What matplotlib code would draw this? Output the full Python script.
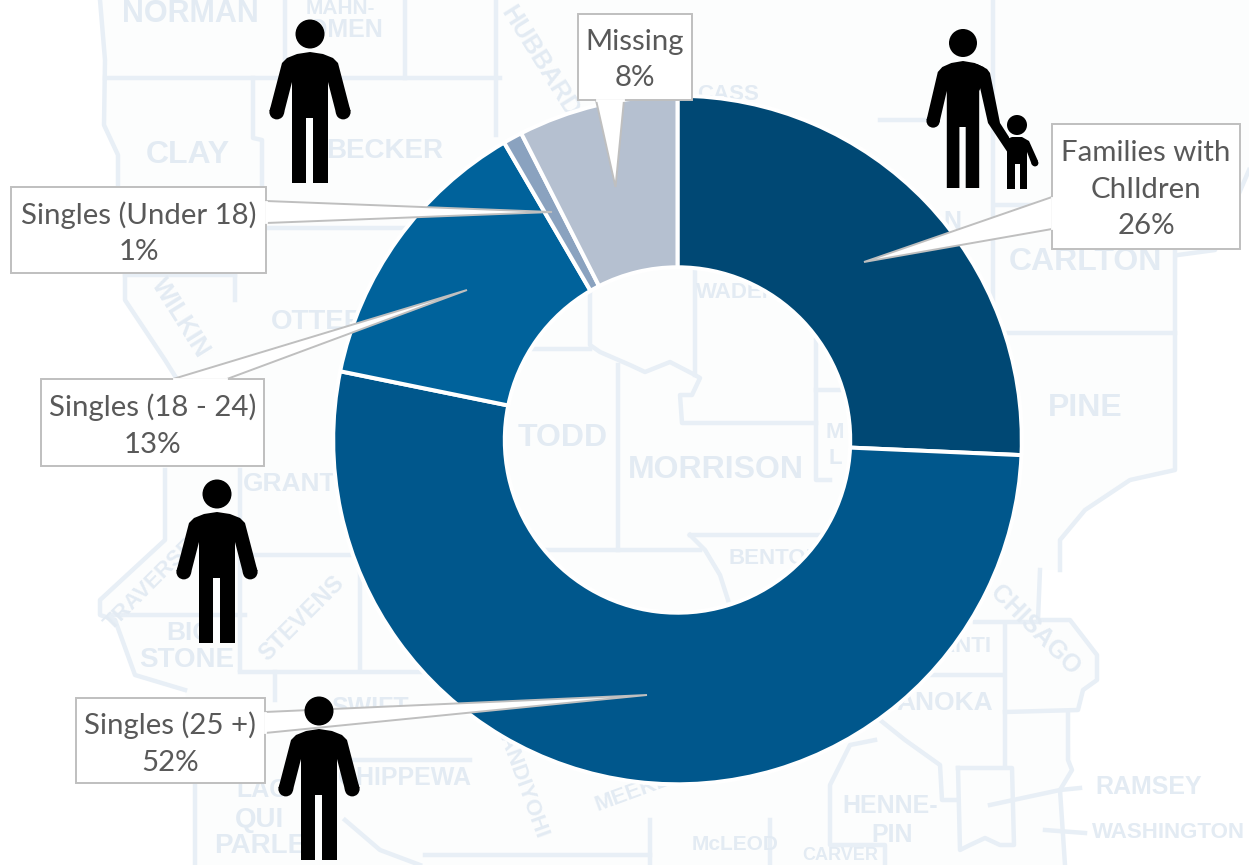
import matplotlib
matplotlib.use('Agg')
import matplotlib.pyplot as plt
from matplotlib.patches import Circle, Polygon, Rectangle

W, H = 1249, 865

# chart values
categories = ['Families with\nChIldren', 'Singles (25 +)', 'Singles (18 - 24)', 'Singles (Under 18)', 'Missing']
shares = [25.7, 52.5, 13.4, 0.9, 7.5]
pct_labels = ['26%', '52%', '13%', '1%', '8%']
colors = ['#004874', '#00578c', '#00629b', '#8aa2bf', '#b5c0d0']

# callout boxes (left, top, right, bottom) and pointer (start, tip, end)
boxes = [(1052, 124, 1240, 249), (76, 698, 265, 783), (41, 379, 264, 466), (11, 187, 266, 273), (578, 14, 692, 100)]
pointers = [
    [(1052, 197), (864, 262), (1052, 229)],
    [(265, 712), (647, 695), (265, 733)],
    [(173, 379), (467, 290), (227, 379)],
    [(266, 201), (552, 212), (266, 223)],
    [(596, 100), (615.5, 187), (624, 100)],
]

# faded county map behind the chart
land = [(100, 0), (105, 60), (104, 125), (118, 155), (118, 190), (125, 273), (125, 300), (165, 360), (190, 400),
        (165, 470), (165, 540), (100, 600), (100, 615), (115, 620), (135, 675), (185, 690), (195, 765), (195, 865),
        (1065, 865), (1060, 790), (1072, 770), (1068, 712), (1078, 710), (1083, 690), (1097, 680), (1097, 655),
        (1070, 620), (1038, 620), (1040, 570), (1060, 570), (1060, 540), (1085, 510), (1130, 480), (1175, 470),
        (1175, 300), (1178, 255), (1215, 250), (1249, 170), (1249, 0)]
county_lines = [
    [(100, 0), (105, 60), (104, 125), (118, 155), (118, 186)],
    [(125, 273), (125, 300), (165, 360), (190, 400)],
    [(165, 470), (165, 540), (100, 600), (100, 615), (115, 620), (135, 675), (185, 690)],
    [(195, 783), (195, 865)],
    [(105, 78), (500, 78)], [(285, 0), (285, 78)], [(405, 0), (405, 78)],
    [(253, 78), (253, 138), (262, 140), (262, 187)], [(496, 0), (496, 135)],
    [(266, 228), (420, 228)], [(125, 275), (235, 275)], [(235, 273), (235, 300)],
    [(240, 470), (240, 670)], [(240, 555), (350, 555)], [(360, 555), (360, 670)], [(240, 672), (500, 672)],
    [(275, 672), (275, 700)], [(110, 615), (245, 615)], [(350, 760), (470, 760)], [(345, 820), (380, 850), (420, 865)],
    [(590, 270), (590, 345), (600, 352), (630, 365), (645, 372), (670, 362), (695, 375), (700, 378), (692, 395),
     (680, 395), (682, 423), (816, 423)],
    [(695, 270), (695, 375)], [(816, 340), (816, 480), (830, 480)], [(816, 390), (840, 390)],
    [(618, 365), (618, 550)], [(545, 550), (700, 550)], [(430, 349), (590, 349)],
    [(690, 535), (820, 535)], [(690, 535), (705, 550), (720, 575), (728, 600)],
    [(880, 120), (930, 120)], [(993, 0), (993, 300)], [(995, 205), (1050, 205)],
    [(1000, 333), (1175, 333)], [(1175, 250), (1175, 470), (1130, 480), (1085, 510), (1060, 540), (1060, 570)],
    [(1178, 255), (1215, 250), (1249, 170)],
    [(1040, 570), (1038, 620), (1070, 620), (1097, 655), (1097, 680), (1083, 690), (1078, 710), (1005, 712)],
    [(975, 622), (1038, 622)], [(1005, 625), (1005, 765)], [(930, 675), (1003, 675)],
    [(1068, 712), (1068, 760), (1072, 770), (1060, 790), (1065, 865)],
    [(958, 768), (1012, 768), (1014, 845), (1000, 845), (985, 838), (970, 845), (960, 850), (958, 768)],
    [(880, 720), (905, 740), (940, 765), (942, 800), (958, 800)],
    [(875, 740), (850, 745), (830, 785), (830, 845), (885, 845), (885, 865)],
    [(990, 805), (1060, 790), (1080, 788)], [(1045, 830), (1085, 833)],
    [(650, 820), (650, 865)], [(770, 820), (770, 865)], [(425, 855), (650, 855)],
]
county_names = [
    ('NORMAN', 190, 14, 0, 22), ('MAHN-', 340, 8, 0, 15), ('OMEN', 345, 30, 0, 18), ('CLAY', 188, 155, 0, 23),
    ('BECKER', 385, 151, 0, 20), ('HUBBARD', 540, 62, -58, 18), ('CASS', 728, 95, 0, 16), ('OTTER', 318, 322, 0, 20),
    ('WILKIN', 180, 318, -58, 18), ('GRANT', 290, 484, 0, 19), ('TRAVERSE', 150, 585, 45, 16), ('BIG', 190, 633, 0, 19),
    ('STONE', 187, 660, 0, 20), ('STEVENS', 302, 618, 45, 17), ('SWIFT', 370, 708, 0, 18), ('CHIPPEWA', 405, 778, 0, 18),
    ('LAC', 262, 790, 0, 18), ('QUI', 260, 820, 0, 20), ('PARLE', 260, 846, 0, 20), ('KANDIYOHI', 520, 780, -70, 16),
    ('MEEKER', 640, 790, 20, 16), ('TODD', 563, 438, 0, 23), ('MORRISON', 716, 470, 0, 23), ('BENTON', 775, 558, 0, 16),
    ('WADENA', 745, 292, 0, 16), ('M', 835, 432, 0, 16), ('L', 835, 458, 0, 16), ('ISANTI', 955, 646, 0, 16),
    ('ANOKA', 945, 703, 0, 19), ('CHISAGO', 1035, 630, -45, 18), ('RAMSEY', 1149, 787, 0, 18), ('WASHINGTON', 1168, 833, 0, 16),
    ('HENNE-', 890, 806, 0, 18), ('PIN', 892, 835, 0, 18), ('CARLTON', 1085, 262, 0, 23), ('PINE', 1085, 408, 0, 23),
    ('McLEOD', 735, 845, 0, 15), ('CARVER', 840, 855, 0, 13), ('N', 952, 222, 0, 18),
]
map_line = '#e8eff6'
map_text = '#e3ebf3'


def person(ax, cx, top, head_y, head_r=14.5, s=1.0, right_arm=True, h=131):
    # black pictogram, outline follows head, shoulders, arms, torso, legs
    ax.add_patch(Circle((cx, head_y), head_r, fc='black', ec='none', zorder=6))
    left = [(-18, h), (-18, 30), (-26, 61), (-40.5, 59), (-28, 11), (-23, 6), (-13, 2), (0, 0)]
    right = [(13, 2), (23, 6), (28, 11), (18, 30), (18, h)]
    if right_arm:
        right = [(13, 2), (23, 6), (28, 11), (40.5, 59), (26, 61), (18, 30), (18, h)]
    gap = [(3, h), (3, 66), (-4, 66), (-4, h)]
    pts = [(cx + x * s, top + y) for x, y in left + right + gap]
    ax.add_patch(Polygon(pts, closed=True, fc='black', ec='none', zorder=6))
    ax.add_patch(Circle((cx - 33.2 * s, top + 60), 7.4 * s, fc='black', ec='none', zorder=6))
    if right_arm:
        ax.add_patch(Circle((cx + 33.2 * s, top + 60), 7.4 * s, fc='black', ec='none', zorder=6))


fig = plt.figure(figsize=(W / 100, H / 100), dpi=100, facecolor='white')
ax = fig.add_axes([0, 0, 1, 1])

ax.add_patch(Polygon(land, closed=True, fc='#fcfdfd', ec='none', zorder=0))
for line in county_lines:
    ax.plot([p[0] for p in line], [p[1] for p in line], color=map_line, lw=3.2, zorder=1,
            solid_joinstyle='round')
for name, x, y, rot, size in county_names:
    ax.text(x, y, name, ha='center', va='center', rotation=rot, fontsize=size, fontweight='bold',
            family='Liberation Sans', color=map_text, zorder=1)

# y axis runs downward here, so startangle -90 is 12 o'clock and the slices go clockwise
ax.pie(shares, colors=colors, startangle=-90, counterclock=True, center=(677.5, 440), radius=344.3,
       wedgeprops=dict(width=171.6, edgecolor='white', linewidth=2.9, zorder=3), frame=False)

for cat, pct, box, ptr in zip(categories, pct_labels, boxes, pointers):
    l, t, r, b = box
    ax.add_patch(Polygon(ptr, closed=False, fc='white', ec='#bfbfbf', lw=1.4, zorder=4, joinstyle='miter'))
    ax.add_patch(Rectangle((l, t), r - l, b - t, fc='white', ec='#bfbfbf', lw=1.4, zorder=4))
    # white strip hides the box border under the pointer base
    xs = [p[0] for p in ptr]
    ys = [p[1] for p in ptr]
    if ys[0] == ys[2]:
        ax.plot([xs[0] + 1, xs[2] - 1], [ys[0], ys[2]], color='white', lw=2, zorder=4.5)
    else:
        ax.plot([xs[0], xs[2]], [ys[0] + 1, ys[2] - 1], color='white', lw=2, zorder=4.5)
    ax.text((l + r) / 2, (t + b) / 2 + 3, cat + '\n' + pct, ha='center', va='center', fontsize=21.2,
            family='Lato', color='#595959', linespacing=1.5, zorder=5)

person(ax, 310, 52, 34)
person(ax, 217, 512, 494)
person(ax, 319, 729, 711)

# adult and child
person(ax, 963, 61, 43, head_r=14, s=0.9, right_arm=False, h=127)
reach = [(977, 64), (987, 69), (990, 73), (1000, 123), (1009, 137), (1011, 152), (1008, 153), (988, 123), (979, 83)]
ax.add_patch(Polygon(reach, closed=True, fc='black', ec='none', zorder=6))
ax.add_patch(Circle((1017, 125), 10, fc='black', ec='none', zorder=6))
child = [(1007, 189), (1007, 139), (1012, 137), (1022, 137), (1029, 141), (1038, 161), (1032, 165), (1027, 152),
         (1027, 189), (1020, 189), (1020, 164), (1015, 164), (1015, 189)]
ax.add_patch(Polygon(child, closed=True, fc='black', ec='none', zorder=6))
ax.add_patch(Circle((1035, 163), 3.4, fc='black', ec='none', zorder=6))

ax.set_xlim(0, W)
ax.set_ylim(H, 0)
ax.set_aspect('equal')
ax.axis('off')

fig.savefig('out.png', dpi=100, facecolor='white')
